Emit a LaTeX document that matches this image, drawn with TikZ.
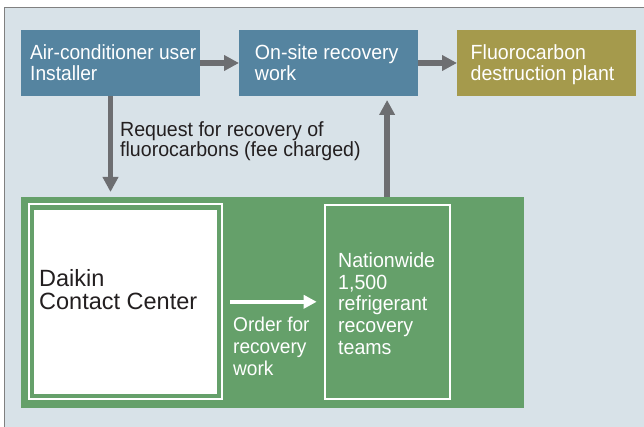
\documentclass[tikz,border=0pt]{standalone}
\usepackage{fontspec}
\setmainfont{Liberation Sans}
\newfontfamily\nfont{Liberation Sans}[FakeStretch=0.955]
\newfontfamily\nfonta{Liberation Sans}[FakeStretch=0.935]
\usetikzlibrary{arrows.meta,fit}
\definecolor{bgc}{HTML}{D8E2E8}
\definecolor{frm}{HTML}{808080}
\definecolor{bluebox}{HTML}{5584A0}
\definecolor{olive}{HTML}{A59A4C}
\definecolor{grn}{HTML}{65A06A}
\definecolor{arr}{HTML}{6D6E71}
\definecolor{txt}{HTML}{231F20}
\tikzset{
 box/.style={anchor=north west, inner sep=0pt, outer sep=0pt, minimum width=179pt, minimum height=66pt},
 lbl/.style={anchor=base west, inner sep=0pt, align=left, font=\nfont\fontsize{20.5}{21.3}\selectfont},
 garrow/.style={draw=arr, line width=5.5pt, -{Triangle[length=15pt,width=15pt]}},
 warrow/.style={draw=white, line width=4pt, -{Triangle[length=13pt,width=13pt]}},
}
\begin{document}
\begin{tikzpicture}[x=1pt,y=-1pt]
\useasboundingbox (0,0) rectangle (644,427);
\fill[bgc] (4.5,7.5) rectangle (660,440);
\draw[frm, line width=1.5pt] (4.5,440) -- (4.5,7.5) -- (660,7.5);

\node[box, fill=bluebox] (user) at (21,30) {};
\node[box, fill=bluebox] (onsite) at (239,30) {};
\node[box, fill=olive] (plant) at (457,30) {};
\node[anchor=north west, inner sep=0pt, outer sep=0pt, minimum width=503pt, minimum height=211pt, fill=grn] (center) at (21,197) {};
\node[fill=white, inner sep=0pt, minimum width=183.2pt, minimum height=184.4pt] (dk) at (125.4,301.8) {};
\node[fit=(dk), inner sep=5pt, draw=white, line width=2pt] (dkframe) {};
\node[draw=white, line width=2pt, inner sep=0pt, minimum width=124.8pt, minimum height=194.4pt] (teams) at (387.1,301.8) {};

% text nodes are anchored at the baseline of their last line
\node[lbl, text=white, font=\nfonta\fontsize{20.5}{21.5}\selectfont] (tuser) at (30,80.7) {Air-conditioner user\\Installer};
\node[lbl, text=white, font=\nfont\fontsize{20.5}{21.5}\selectfont] (tonsite) at (254.7,80.7) {On-site recovery\\work};
\node[lbl, text=white, font=\nfont\fontsize{20.5}{21.5}\selectfont] (tplant) at (470.5,80.7) {Fluorocarbon\\destruction plant};
\node[lbl, text=txt, font=\nfont\fontsize{20.5}{20}\selectfont] (treq) at (120,157) {Request for recovery of\\fluorocarbons (fee charged)};
\node[lbl, text=txt, font=\fontsize{23.5}{23.5}\selectfont] (tdk) at (39,309.5) {Daikin\\Contact Center};
\node[lbl, text=white, font=\nfont\fontsize{20}{21.7}\selectfont] (torder) at (233,375.1) {Order for\\recovery\\work};
\node[lbl, text=white, font=\nfont\fontsize{20.5}{21.7}\selectfont] (tteams) at (338,354.1) {Nationwide\\1,500\\refrigerant\\recovery\\teams};

\draw[garrow] (user.east) -- (onsite.west);
\draw[garrow] (onsite.east) -- (plant.west);
\draw[garrow, shorten >=5pt] (user.south) -- (user.south |- center.north);
\draw[garrow, shorten >=4pt] (teams.north |- center.north) -- (teams.north |- onsite.south);
\draw[warrow, shorten <=7pt, shorten >=7pt] (dkframe.east) -- (teams.west);
\end{tikzpicture}
\end{document}
